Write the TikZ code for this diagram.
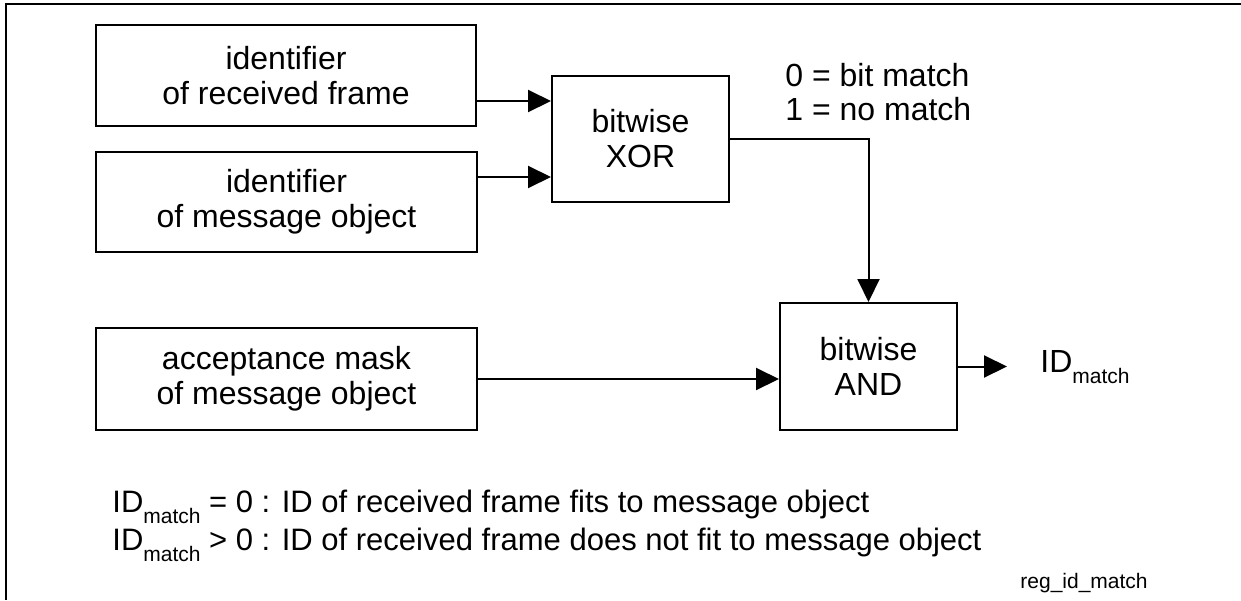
\documentclass[tikz,border=0pt]{standalone}
\usepackage{fontspec}
\setmainfont{Liberation Sans}
\usetikzlibrary{arrows.meta}
\newcommand{\idmatch}{ID\raisebox{-5.5pt}{\fontsize{10.5}{12}\selectfont match}}
\begin{document}
\begin{tikzpicture}[x=0.5pt,y=-0.5pt,line join=miter,
  blk/.style={draw,line width=1pt,align=center,inner sep=0pt,font=\fontsize{16}{17.5}\selectfont},
  flow/.style={line width=1pt,-{Triangle[length=11.5pt,width=11pt]}},
  txt/.style={inner sep=0pt,font=\fontsize{16}{17.5}\selectfont},
  note/.style={inner sep=0pt,anchor=base west,font=\fontsize{15.5}{17.5}\selectfont}]
  \useasboundingbox (0,0) rectangle (1241,600);
  \draw[line width=1pt] (6,600) -- (6,4) -- (1241,4);
  % input blocks
  \node[blk,minimum width=190pt,minimum height=50.5pt] (rxid) at (286,75.5) {identifier\\of received frame};
  \node[blk,minimum width=190.5pt,minimum height=50pt] (msgid) at (286.5,202) {identifier\\of message object};
  \node[blk,minimum width=190.5pt,minimum height=51pt] (mask) at (286.5,379) {acceptance mask\\of message object};
  % logic blocks
  \node[blk,minimum width=88.5pt,minimum height=63pt] (xor) at (640.5,139) {bitwise\\XOR};
  \node[blk,minimum width=88.5pt,minimum height=63.5pt] (and) at (868.5,366.5) {bitwise\\AND};
  \node[txt,anchor=base west] (bm) at (785,86) {0 = bit match};
  \node[txt,anchor=base west] (nm) at (785,120) {1 = no match};
  \node[txt,anchor=base west] (res) at (1040,372) {\idmatch};
  \coordinate (out) at (1007,366.5);
  % connectors
  \draw[flow] (rxid.east |- xor.157) -- (xor.157);
  \draw[flow] (msgid.east |- xor.203) -- (xor.203);
  \draw[flow] (xor.east) -- (and.north |- xor.east) -- (and.north);
  \draw[flow] (mask.east) -- (and.west |- mask.east);
  \draw[flow] (and.east) -- (out);
  % notes
  \node[note] (fit) at (112,512) {\idmatch{} = 0 : ID of received frame fits to message object};
  \node[note] (nofit) at (112,550) {\idmatch{} > 0 : ID of received frame does not fit to message object};
  \node[inner sep=0pt,anchor=base west,font=\fontsize{10.5}{12}\selectfont] (tag) at (1020,588) {reg\_id\_match};
\end{tikzpicture}
\end{document}
